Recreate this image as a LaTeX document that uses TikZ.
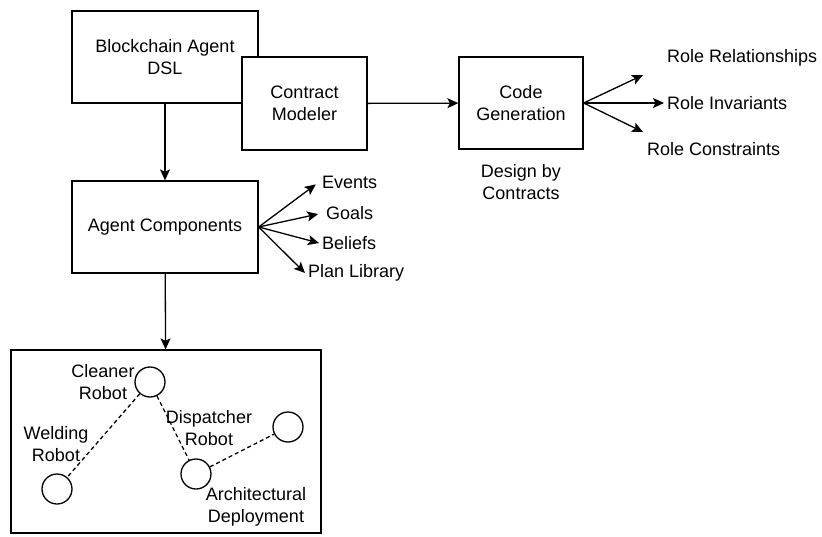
\documentclass[tikz,border=0pt]{standalone}
\usepackage{fontspec}
\setmainfont{Liberation Sans}
\usetikzlibrary{arrows.meta}

\begin{document}
\begin{tikzpicture}[x=1pt,y=-1pt,
  font=\fontsize{18}{22}\selectfont,
  box/.style={draw,fill=white,line width=1.3pt,align=center,inner sep=0pt},
  arr/.style={-{Stealth[length=11pt,width=10pt,inset=2.5pt]},line width=1.3pt},
  robot/.style={draw,circle,line width=1.3pt,minimum size=30pt,inner sep=0pt},
  link/.style={dash pattern=on 4pt off 3pt,line width=1.3pt},
  lbl/.style={align=center,inner sep=3pt}]

\useasboundingbox (0,0) rectangle (822,536);

\node[box,minimum width=186pt,minimum height=92pt] (dsl) at (165,57) {Blockchain Agent\\DSL};

\node[box,minimum width=125pt,minimum height=93pt] (modeler) at (304.5,103.5) {Contract\\Modeler};

\node[box,minimum width=124pt,minimum height=92pt] (codegen) at (521,103) {Code\\Generation};

\node[lbl] (dbc) at (521,182.5) {Design by\\Contracts};

\node[lbl,anchor=west] (relat) at (664,58) {Role Relationships};
\node[lbl,anchor=west] (invar) at (664,103) {Role Invariants};
\node[lbl,anchor=west] (constr) at (644,149) {Role Constraints};

\coordinate (relat tip) at (643,75);
\coordinate (constr tip) at (643,132);

\node[box,minimum width=186pt,minimum height=92pt] (agent) at (165,227) {Agent Components};

\node[lbl,anchor=west] (events) at (319,182) {Events};
\node[lbl,anchor=west] (goals) at (323,213) {Goals};
\node[lbl,anchor=west] (beliefs) at (319,243) {Beliefs};
\node[lbl,anchor=west] (plib) at (305,273) {Plan Library};

\node[box,minimum width=310pt,minimum height=183pt] (deploy) at (166,441.5) {};

\node[robot] (cleaner) at (150,382) {};
\node[robot] (welding) at (57,489) {};
\node[robot] (dispatcher) at (196,474) {};
\node[robot] (other) at (288,427) {};

\node[lbl] (cleanerlbl) at (103,382.5) {Cleaner\\Robot};
\node[lbl] (weldinglbl) at (56,444) {Welding\\Robot};
\node[lbl] (dispatcherlbl) at (209,428) {Dispatcher\\Robot};
\node[lbl] (archlbl) at (256,506.5) {Architectural\\Deployment};

\draw[arr] (modeler) -- (codegen);
\draw[arr] (dsl) -- (agent);
\draw[arr] (agent) -- (deploy);

\draw[arr] (codegen.east) -- (relat tip);
\draw[arr] (codegen.east) -- (invar.west);
\draw[arr] (codegen.east) -- (constr tip);

\draw[arr,shorten >=4pt] (agent.east) -- (events.west);
\draw[arr,shorten >=5pt] (agent.east) -- (goals.west);
\draw[arr] (agent.east) -- (beliefs.west);
\draw[arr] (agent.east) -- (plib.west);

\draw[link] (cleaner) -- (welding);
\draw[link] (cleaner) -- (dispatcher);
\draw[link] (dispatcher) -- (other);

\end{tikzpicture}
\end{document}
